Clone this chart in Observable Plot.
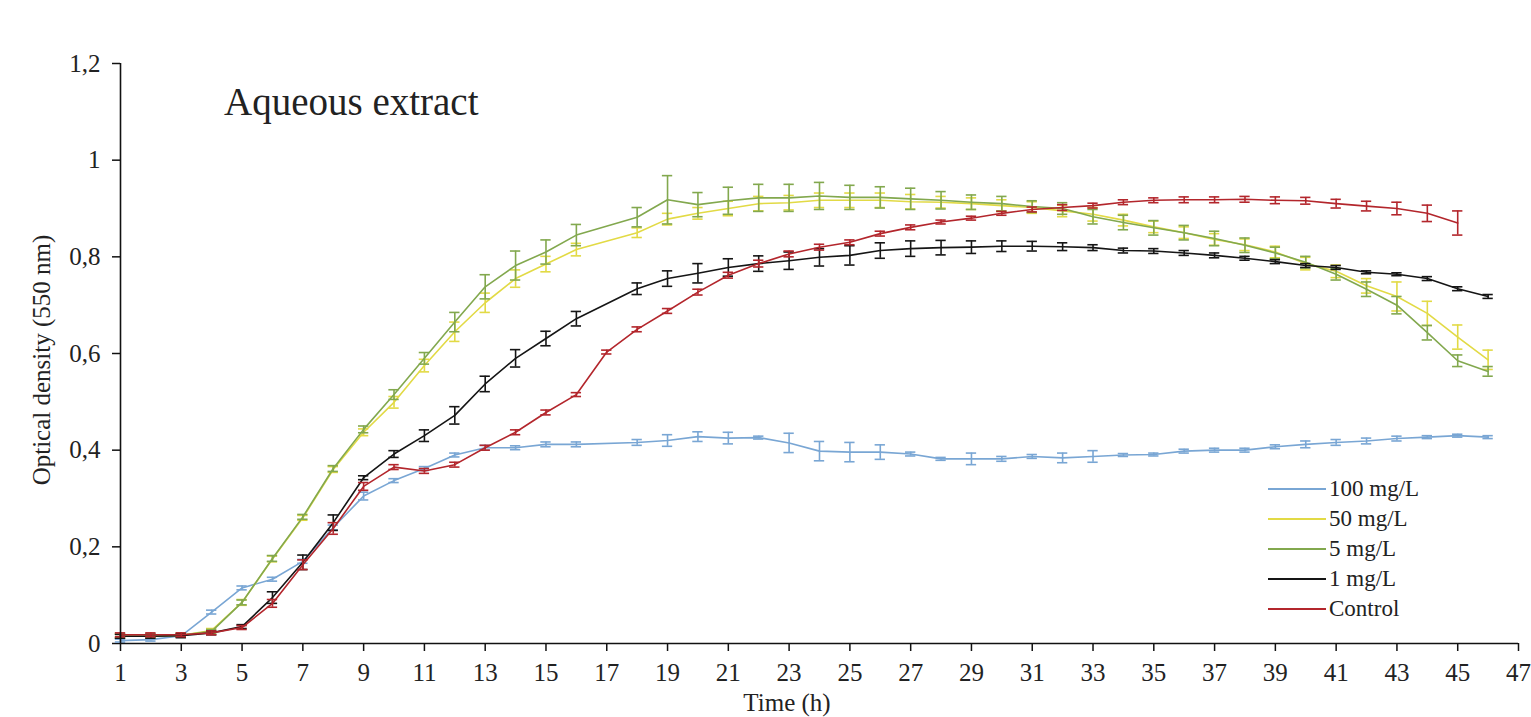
<!DOCTYPE html>
<html>
<head>
<meta charset="utf-8">
<script src="https://cdn.jsdelivr.net/npm/d3@7"></script>
<script src="https://cdn.jsdelivr.net/npm/@observablehq/plot@0.6"></script>
<style>
  html, body { margin: 0; padding: 0; background: #fff; }
  #wrap { position: relative; width: 1531px; height: 717px; overflow: hidden; font-family: "Liberation Serif", "DejaVu Serif", serif; color: #222; }
  #title { position: absolute; left: 224px; top: 82px; font-size: 39px; line-height: 1; white-space: nowrap; }
  #ylabel { position: absolute; left: 42px; top: 360px; font-size: 25px; white-space: nowrap; transform: translate(-50%, -50%) rotate(-90deg); }
  #xlabel { position: absolute; left: 787px; top: 690px; font-size: 25px; white-space: nowrap; transform: translateX(-50%); line-height: 1; }
  #legend { position: absolute; left: 1268px; top: 474px; font-size: 23px; line-height: 30px; font-family: "Liberation Serif", serif; }
  #legend .row { display: flex; align-items: center; height: 30px; }
  #legend .sw { width: 58px; height: 0; border-top: 2px solid; margin-right: 3px; }
  #chart { position: absolute; left: 0; top: 0; }
</style>
</head>
<body>
<div id="wrap">
  <div id="chart"></div>
  <div id="title">Aqueous extract</div>
  <div id="ylabel">Optical density (550 nm)</div>
  <div id="xlabel">Time (h)</div>
  <div id="legend"></div>
</div>
<script>
// Time points (h): most series skip hour 17; the control has it and stops at 45
const hoursMain = [1,2,3,4,5,6,7,8,9,10,11,12,13,14,15,16,18,19,20,21,22,23,24,25,26,27,28,29,30,31,32,33,34,35,36,37,38,39,40,41,42,43,44,45,46];
const hoursControl = [1,2,3,4,5,6,7,8,9,10,11,12,13,14,15,16,17,18,19,20,21,22,23,24,25,26,27,28,29,30,31,32,33,34,35,36,37,38,39,40,41,42,43,44,45];

const seriesNames = ["100 mg/L", "50 mg/L", "5 mg/L", "1 mg/L", "Control"];
const seriesColors = ["#79a6d4", "#e2da45", "#82a84e", "#151515", "#b3262c"];

const od100 = [0.006,0.008,0.016,0.065,0.115,0.133,0.17,0.24,0.305,0.337,0.362,0.39,0.405,0.405,0.412,0.412,0.416,0.42,0.428,0.425,0.426,0.415,0.398,0.396,0.396,0.392,0.382,0.382,0.382,0.387,0.384,0.387,0.39,0.391,0.398,0.4,0.4,0.407,0.412,0.416,0.419,0.424,0.427,0.43,0.427];
const err100 = [0.003,0.003,0.003,0.004,0.004,0.004,0.004,0.005,0.008,0.004,0.004,0.004,0.005,0.004,0.005,0.005,0.006,0.012,0.01,0.012,0.003,0.02,0.02,0.02,0.015,0.004,0.003,0.012,0.005,0.004,0.01,0.012,0.003,0.003,0.004,0.004,0.004,0.004,0.007,0.006,0.006,0.005,0.003,0.003,0.003];

const od50 = [0.015,0.015,0.017,0.027,0.085,0.175,0.26,0.36,0.437,0.499,0.575,0.645,0.705,0.755,0.785,0.815,0.85,0.878,0.89,0.9,0.91,0.912,0.917,0.917,0.917,0.914,0.913,0.91,0.906,0.902,0.895,0.888,0.876,0.862,0.85,0.836,0.825,0.81,0.786,0.77,0.74,0.718,0.683,0.634,0.587];
const err50 = [0.004,0.004,0.004,0.004,0.006,0.006,0.005,0.006,0.007,0.012,0.013,0.02,0.02,0.018,0.016,0.013,0.01,0.012,0.012,0.015,0.015,0.015,0.015,0.015,0.015,0.015,0.012,0.012,0.012,0.012,0.012,0.014,0.012,0.012,0.012,0.012,0.012,0.012,0.013,0.013,0.015,0.03,0.025,0.025,0.02];

const od5 = [0.015,0.015,0.017,0.025,0.085,0.176,0.262,0.362,0.443,0.515,0.59,0.665,0.738,0.782,0.81,0.845,0.882,0.918,0.908,0.916,0.922,0.922,0.926,0.923,0.923,0.92,0.917,0.913,0.91,0.904,0.9,0.883,0.871,0.86,0.85,0.838,0.824,0.808,0.789,0.764,0.733,0.7,0.643,0.585,0.563];
const err5 = [0.004,0.004,0.004,0.004,0.005,0.006,0.005,0.006,0.007,0.01,0.012,0.02,0.025,0.03,0.025,0.022,0.02,0.05,0.025,0.028,0.028,0.028,0.028,0.025,0.022,0.022,0.018,0.015,0.015,0.012,0.012,0.015,0.015,0.015,0.015,0.015,0.015,0.012,0.012,0.012,0.015,0.018,0.015,0.012,0.01];

const od1 = [0.015,0.015,0.016,0.022,0.035,0.095,0.168,0.25,0.343,0.392,0.43,0.472,0.537,0.59,0.631,0.672,0.734,0.755,0.766,0.778,0.786,0.792,0.799,0.803,0.813,0.817,0.819,0.82,0.822,0.822,0.821,0.819,0.813,0.812,0.808,0.803,0.797,0.79,0.782,0.778,0.768,0.764,0.755,0.734,0.718];
const err1 = [0.004,0.004,0.004,0.004,0.004,0.012,0.015,0.016,0.004,0.007,0.012,0.018,0.016,0.018,0.015,0.015,0.012,0.016,0.02,0.018,0.016,0.018,0.018,0.02,0.016,0.016,0.015,0.013,0.011,0.01,0.008,0.006,0.005,0.005,0.005,0.005,0.004,0.004,0.004,0.004,0.003,0.003,0.004,0.004,0.004];

const odControl = [0.018,0.018,0.018,0.022,0.033,0.083,0.163,0.238,0.325,0.365,0.357,0.37,0.405,0.437,0.478,0.515,0.603,0.65,0.688,0.727,0.762,0.786,0.806,0.82,0.83,0.848,0.861,0.872,0.88,0.89,0.898,0.902,0.906,0.913,0.917,0.918,0.918,0.919,0.917,0.916,0.91,0.905,0.9,0.89,0.87];
const errControl = [0.004,0.004,0.004,0.004,0.004,0.008,0.01,0.012,0.008,0.005,0.005,0.005,0.005,0.005,0.005,0.004,0.004,0.005,0.005,0.006,0.006,0.007,0.006,0.006,0.005,0.005,0.005,0.004,0.004,0.004,0.005,0.006,0.005,0.005,0.005,0.006,0.006,0.006,0.007,0.007,0.009,0.01,0.013,0.017,0.025];

const xTicks = [1,3,5,7,9,11,13,15,17,19,21,23,25,27,29,31,33,35,37,39,41,43,45,47];
const yTicks = [0,0.2,0.4,0.6,0.8,1,1.2];

// Build a long table
const seriesDefs = [
  [seriesNames[0], hoursMain, od100, err100],
  [seriesNames[1], hoursMain, od50, err50],
  [seriesNames[2], hoursMain, od5, err5],
  [seriesNames[3], hoursMain, od1, err1],
  [seriesNames[4], hoursControl, odControl, errControl]
];
const rows = [];
for (const [name, hrs, vals, errs] of seriesDefs) {
  hrs.forEach((h, i) => rows.push({series: name, h, v: vals[i], e: errs[i]}));
}

const capHalf = 0.17;

const marks = [];
for (const name of seriesNames) {
  const d = rows.filter(r => r.series === name);
  const col = seriesColors[seriesNames.indexOf(name)];
  marks.push(
    Plot.ruleX(d, {x: "h", y1: r => r.v - r.e, y2: r => r.v + r.e, stroke: col, strokeWidth: 1.6}),
    Plot.ruleY(d, {y: r => r.v + r.e, x1: r => r.h - capHalf, x2: r => r.h + capHalf, stroke: col, strokeWidth: 1.6}),
    Plot.ruleY(d, {y: r => r.v - r.e, x1: r => r.h - capHalf, x2: r => r.h + capHalf, stroke: col, strokeWidth: 1.6}),
    Plot.line(d, {x: "h", y: "v", stroke: col, strokeWidth: 1.6})
  );
}

const chart = Plot.plot({
  width: 1531,
  height: 717,
  marginLeft: 120,
  marginRight: 13,
  marginTop: 63,
  marginBottom: 74,
  style: {fontFamily: '"Liberation Serif", serif', fontSize: "25px", color: "#222", background: "transparent", overflow: "visible"},
  x: {domain: [1, 47]},
  y: {domain: [0, 1.2]},
  marks: [
    Plot.axisY({ticks: yTicks, tickFormat: d => String(d).replace(".", ","), tickSize: 8, tickPadding: 12, label: null, stroke: "#111", strokeWidth: 1.5}),
    Plot.axisX({ticks: xTicks, tickFormat: d => String(d), tickSize: 8, tickPadding: 12, label: null, stroke: "#111", strokeWidth: 1.5}),
    ...marks,
    Plot.ruleX([1], {stroke: "#111", strokeWidth: 1.6}),
    Plot.ruleY([0], {stroke: "#111", strokeWidth: 1.6})
  ]
});
document.getElementById("chart").appendChild(chart);

// Legend
const legend = document.getElementById("legend");
seriesNames.forEach((n, i) => {
  const row = document.createElement("div");
  row.className = "row";
  const sw = document.createElement("span");
  sw.className = "sw";
  sw.style.borderTopColor = seriesColors[i];
  const t = document.createElement("span");
  t.textContent = n;
  row.appendChild(sw); row.appendChild(t);
  legend.appendChild(row);
});
</script>
</body>
</html>
